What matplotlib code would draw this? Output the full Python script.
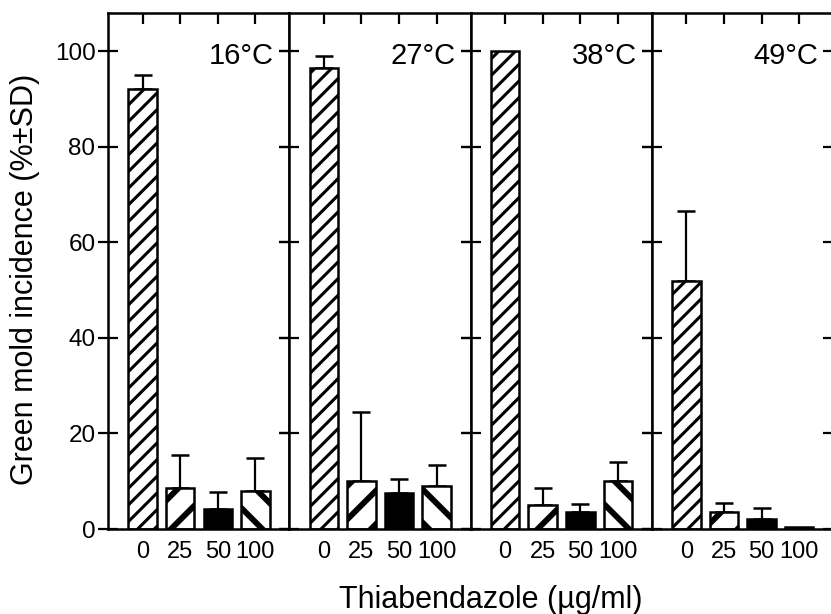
import numpy as np
import matplotlib
matplotlib.use("Agg")
import matplotlib.pyplot as plt

# data
temps = ["16°C", "27°C", "38°C", "49°C"]
doses = ["0", "25", "50", "100"]
incidence = [
    [92.0, 8.5, 4.2, 8.0],
    [96.5, 10.0, 7.5, 9.0],
    [100.0, 5.0, 3.5, 10.0],
    [52.0, 3.5, 2.0, 0.5],
]
sd = [
    [3.0, 7.0, 3.5, 6.8],
    [2.5, 14.5, 3.0, 4.5],
    [0.0, 3.5, 1.8, 4.0],
    [14.5, 2.0, 2.5, 0.0],
]

plt.rcParams["font.family"] = ["Liberation Sans", "DejaVu Sans"]
plt.rcParams["hatch.linewidth"] = 4.2

hatches = ["//", "/", None, "\\"]

fig, axes = plt.subplots(1, 4, sharey=True, figsize=(8.31, 6.14), dpi=100)
fig.subplots_adjust(left=108 / 831, right=833 / 831, bottom=1 - 529 / 614,
                    top=1 - 13 / 614, wspace=0)

x = np.arange(len(doses))
for i, ax in enumerate(axes):
    vals = incidence[i]
    errs = sd[i]
    for j in range(len(doses)):
        fc = "black" if hatches[j] is None else "white"
        b = ax.bar(x[j], vals[j], width=0.76, color=fc, edgecolor="black",
                   linewidth=1.8, hatch=hatches[j], zorder=2)
        if j == 0:
            for p in b:
                if hasattr(p, "set_hatch_linewidth"):
                    p.set_hatch_linewidth(2.2)
        if errs[j] > 0:
            ax.errorbar(x[j], vals[j], yerr=[[0], [errs[j]]], fmt="none",
                        ecolor="black", elinewidth=1.6, capsize=6.5,
                        capthick=1.8, zorder=1)
    ax.set_xlim(-0.92, 3.9)
    ax.set_ylim(0, 108)
    ax.set_xticks(x)
    ax.set_xticklabels(doses, fontsize=17)
    ax.tick_params(axis="x", bottom=False, top=True, direction="in",
                   length=8, width=1.6, pad=9)
    ax.tick_params(axis="y", left=True, right=True, direction="inout",
                   length=14, width=1.6, labelsize=17.5, pad=2)
    for s in ax.spines.values():
        s.set_linewidth(1.8)
    ax.text(0.916, 0.917, temps[i], transform=ax.transAxes, ha="right",
            va="center", fontsize=21)

axes[0].set_yticks([0, 20, 40, 60, 80, 100])
fig.text(0.030, 0.545, "Green mold incidence (%±SD)", rotation=90,
         ha="center", va="center", fontsize=22)
fig.text(0.59, 0.023, "Thiabendazole (µg/ml)", ha="center", va="center",
         fontsize=22)

fig.savefig("out.png", dpi=100)
